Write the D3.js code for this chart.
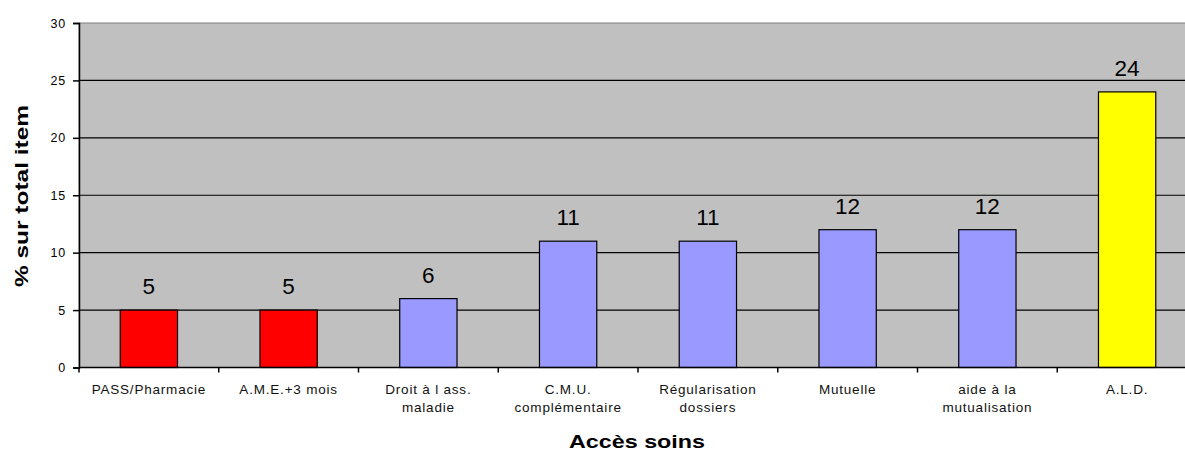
<!DOCTYPE html>
<html>
<head>
<meta charset="utf-8">
<script src="https://cdn.jsdelivr.net/npm/d3@7"></script>
<style>
  body { margin: 0; background: #fff; }
  text { font-family: "Liberation Sans", Arial, sans-serif; }
</style>
</head>
<body>
<div id="chart"></div>
<script>
// data
const categories = ["PASS/Pharmacie", "A.M.E.+3 mois", "Droit à l ass.|maladie", "C.M.U.|complémentaire",
    "Régularisation|dossiers", "Mutuelle", "aide à la|mutualisation", "A.L.D."];
const values = [5, 5, 6, 11, 11, 12, 12, 24];
const barColors = ["#FF0000", "#FF0000", "#9999FF", "#9999FF", "#9999FF", "#9999FF", "#9999FF", "#FFFF00"];
const yTicks = [0, 5, 10, 15, 20, 25, 30];

const W = 1185, H = 454;
const margin = { left: 79, top: 23, right: -12, bottom: 86 };

const svg = d3.select("#chart")
    .append("svg")
    .attr("width", W)
    .attr("height", H);

const x = d3.scaleBand()
    .domain(d3.range(categories.length))
    .range([margin.left, W - margin.right])
    .paddingInner(0.59)
    .paddingOuter(0.295);

const y = d3.scaleLinear()
    .domain([0, 30])
    .range([H - margin.bottom - 0.5, margin.top]);

// plot background
svg.append("rect")
    .attr("x", margin.left)
    .attr("y", margin.top)
    .attr("width", W - margin.right - margin.left)
    .attr("height", y(0) - margin.top)
    .attr("fill", "#C0C0C0")
    .attr("stroke", "#808080");

// gridlines
svg.append("g")
    .selectAll("line")
    .data(yTicks.filter(d => d > 0 && d < 30))
    .enter().append("line")
    .attr("x1", margin.left)
    .attr("x2", W - margin.right)
    .attr("y1", d => y(d))
    .attr("y2", d => y(d))
    .attr("stroke", "#000")
    .attr("stroke-width", 1.2);

// bars
svg.append("g")
    .selectAll("rect")
    .data(values)
    .enter().append("rect")
    .attr("x", (d, i) => x(i))
    .attr("y", d => y(d))
    .attr("width", x.bandwidth())
    .attr("height", d => y(0) - y(d))
    .attr("fill", (d, i) => barColors[i])
    .attr("stroke", "#000")
    .attr("stroke-width", 1.2);

// value labels
svg.append("g")
    .selectAll("text")
    .data(values)
    .enter().append("text")
    .attr("x", (d, i) => x(i) + x.bandwidth() / 2)
    .attr("y", d => y(d) - 16)
    .attr("text-anchor", "middle")
    .attr("font-size", 22.5)
    .text(d => d);

// y axis
const yAxis = d3.axisLeft(y)
    .tickValues(yTicks)
    .tickSize(6)
    .tickPadding(7);

const gy = svg.append("g")
    .attr("transform", `translate(${margin.left},0)`)
    .call(yAxis);
gy.select(".domain").attr("stroke", "#000").attr("stroke-width", 1.5);
gy.selectAll(".tick line").attr("stroke", "#000").attr("stroke-width", 1.5);
gy.selectAll(".tick text")
    .attr("fill", "#000")
    .attr("letter-spacing", 0.8)
    .style("font-size", "12.5px")
    .style("font-family", "Liberation Sans, Arial, sans-serif");

// x axis (ticks at band boundaries)
const step = x.step();
const boundaries = d3.range(categories.length + 1).map(i => margin.left + i * step);
svg.append("line")
    .attr("x1", margin.left).attr("x2", W - margin.right)
    .attr("y1", y(0)).attr("y2", y(0))
    .attr("stroke", "#000").attr("stroke-width", 1.5);
svg.append("g")
    .selectAll("line")
    .data(boundaries)
    .enter().append("line")
    .attr("x1", d => d).attr("x2", d => d)
    .attr("y1", y(0)).attr("y2", y(0) + 5)
    .attr("stroke", "#000").attr("stroke-width", 1.5);

// category labels
const labels = svg.append("g")
    .selectAll("text")
    .data(categories)
    .enter().append("text")
    .attr("x", (d, i) => x(i) + x.bandwidth() / 2)
    .attr("y", 394)
    .attr("text-anchor", "middle")
    .attr("font-size", 13.5)
    .attr("letter-spacing", 0.8)
    .attr("fill", "#111");
labels.each(function (d) {
    const parts = d.split("|");
    const t = d3.select(this);
    parts.forEach((p, k) => {
        t.append("tspan")
            .attr("x", t.attr("x"))
            .attr("dy", k === 0 ? 0 : 18)
            .text(p);
    });
});

// axis titles
svg.append("text")
    .attr("x", 637)
    .attr("y", 448)
    .attr("text-anchor", "middle")
    .attr("font-size", 19)
    .attr("font-weight", "bold")
    .attr("textLength", 136)
    .attr("lengthAdjust", "spacingAndGlyphs")
    .text("Accès soins");

svg.append("text")
    .attr("transform", "translate(28,196) rotate(-90)")
    .attr("text-anchor", "middle")
    .attr("font-size", 19)
    .attr("font-weight", "bold")
    .attr("textLength", 182)
    .attr("lengthAdjust", "spacingAndGlyphs")
    .text("% sur total item");
</script>
</body>
</html>
